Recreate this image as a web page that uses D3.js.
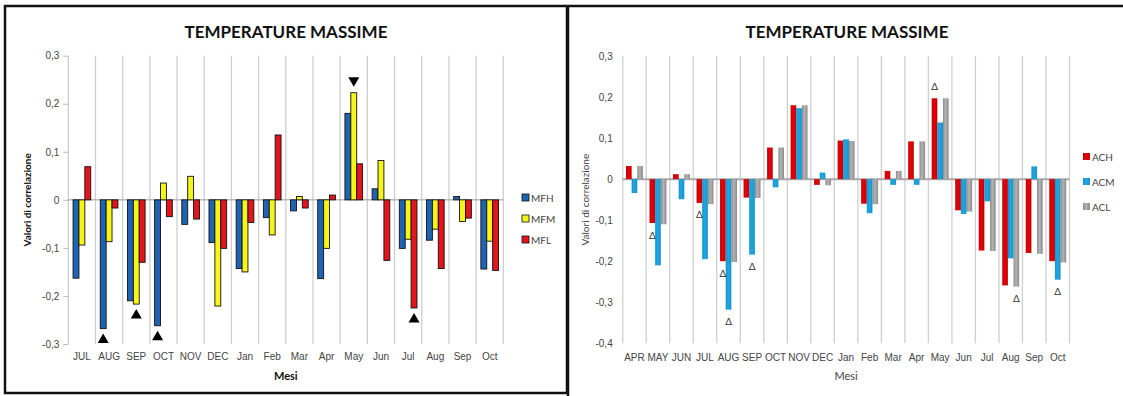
<!DOCTYPE html>
<html><head><meta charset="utf-8">
<script src="https://cdn.jsdelivr.net/npm/d3@7"></script>
<style>
body{margin:0;background:#fff;}
svg{display:block;font-family:Lato,"Open Sans",sans-serif;}
</style></head><body>
<svg id="chart" width="1123" height="396"></svg>
<script>
// ---- Left panel: MF correlations ----
const leftMonths = ["JUL","AUG","SEP","OCT","NOV","DEC","Jan","Feb","Mar","Apr","May","Jun","Jul","Aug","Sep","Oct"];
const leftSeries = ["MFH","MFM","MFL"];
const mfh = [-0.163,-0.268,-0.21,-0.262,-0.051,-0.089,-0.143,-0.037,-0.023,-0.164,0.18,0.023,-0.101,-0.084,0.007,-0.144];
const mfm = [-0.094,-0.087,-0.217,0.035,0.049,-0.221,-0.15,-0.073,0.007,-0.101,0.223,0.082,-0.082,-0.061,-0.045,-0.086];
const mfl = [0.069,-0.017,-0.13,-0.035,-0.04,-0.101,-0.047,0.135,-0.017,0.01,0.075,-0.126,-0.225,-0.143,-0.038,-0.147];
const leftTicks = [0.3,0.2,0.1,0,-0.1,-0.2,-0.3];
// significance markers: [month index, series index]
const leftMarks = [[1,0],[2,1],[3,0],[10,1],[12,2]];

// ---- Right panel: AC correlations ----
const rightMonths = ["APR","MAY","JUN","JUL","AUG","SEP","OCT","NOV","DEC","Jan","Feb","Mar","Apr","May","Jun","Jul","Aug","Sep","Oct"];
const rightSeries = ["ACH","ACM","ACL"];
const ach = [0.032,-0.107,0.012,-0.058,-0.2,-0.045,0.077,0.18,-0.014,0.094,-0.06,0.02,0.092,0.197,-0.076,-0.174,-0.259,-0.18,-0.2];
const acm = [-0.034,-0.21,-0.049,-0.195,-0.318,-0.184,-0.02,0.173,0.016,0.097,-0.083,-0.014,-0.014,0.138,-0.085,-0.054,-0.193,0.031,-0.245];
const acl = [0.032,-0.11,0.012,-0.061,-0.202,-0.046,0.077,0.18,-0.015,0.093,-0.061,0.02,0.092,0.197,-0.079,-0.175,-0.262,-0.182,-0.203];
const rightTicks = [0.3,0.2,0.1,0,-0.1,-0.2,-0.3,-0.4];
const rightMarks = [[1,0],[3,0],[4,0],[4,1],[5,1],[13,0],[16,2],[18,1]];

const svg = d3.select("#chart");
const fmt = d => String(d).replace(".", ",");

// gradients for the shaded bars of the right panel
const defs = svg.append("defs");
function hGrad(id, edge, mid) {
  const g = defs.append("linearGradient").attr("id", id).attr("x1", "0").attr("x2", "1");
  g.append("stop").attr("offset", "0%").attr("stop-color", edge);
  g.append("stop").attr("offset", "45%").attr("stop-color", mid);
  g.append("stop").attr("offset", "100%").attr("stop-color", edge);
}
hGrad("gRed", "#c00000", "#e8000b");
hGrad("gBlue", "#1590c8", "#1fa8e4");
hGrad("gGray", "#8a8a8a", "#b4b4b4");

// panel frames
svg.append("rect").attr("x", 5).attr("y", 6).attr("width", 562).attr("height", 387)
  .attr("fill", "none").attr("stroke", "#111").attr("stroke-width", 2.5);
svg.append("path").attr("d", "M568,6H1125M568,6V398")
  .attr("fill", "none").attr("stroke", "#111").attr("stroke-width", 2.5);

function panel(cfg) {
  const g = svg.append("g");
  const x = d3.scaleBand().domain(cfg.months).range(cfg.xr)
    .paddingInner(cfg.pad).paddingOuter(cfg.pad / 2);
  const xs = d3.scaleBand().domain(cfg.series).range([0, x.bandwidth()]);
  const y = d3.scaleLinear().domain(cfg.yd).range(cfg.yr);
  const step = x.step();

  // vertical separators between months
  g.append("g").selectAll("line").data(d3.range(cfg.months.length + 1)).join("line")
    .attr("x1", i => cfg.xr[0] + i * step).attr("x2", i => cfg.xr[0] + i * step)
    .attr("y1", y(cfg.yd[1])).attr("y2", y(cfg.yd[0]))
    .attr("stroke", "#cfcfcf").attr("stroke-width", 1.3);

  // y axis labels
  const ya = g.append("g").attr("transform", `translate(${cfg.xr[0]},0)`)
    .call(d3.axisLeft(y).tickValues(cfg.ticks).tickFormat(fmt).tickSize(cfg.tick).tickPadding(cfg.tickPad));
  ya.select(".domain").remove();
  ya.selectAll("line").attr("stroke", "#bbb");
  ya.selectAll("text").attr("font-size", 10).attr("fill", "#444");

  // zero line
  g.append("line").attr("x1", cfg.xr[0]).attr("x2", cfg.xr[1])
    .attr("y1", y(0)).attr("y2", y(0)).attr("stroke", cfg.zeroColor).attr("stroke-width", cfg.zeroW);

  // bars
  const rows = cfg.months.map((m, i) => cfg.series.map((s, k) => ({ m, s, k, v: cfg.values[k][i] })));
  g.append("g").selectAll("g").data(rows).join("g")
    .attr("transform", (d, i) => `translate(${x(cfg.months[i])},0)`)
    .selectAll("rect").data(d => d).join("rect")
    .attr("x", d => xs(d.s)).attr("width", xs.bandwidth())
    .attr("y", d => y(Math.max(0, d.v))).attr("height", d => Math.abs(y(d.v) - y(0)))
    .attr("fill", d => cfg.fills[d.k])
    .attr("stroke", cfg.stroke).attr("stroke-width", cfg.stroke === "none" ? 0 : 0.9);

  // x labels
  const xa = g.append("g").attr("transform", `translate(0,${y(cfg.yd[0])})`)
    .call(d3.axisBottom(x).tickSize(0).tickPadding(cfg.xPad));
  xa.select(".domain").remove();
  xa.selectAll("text").attr("font-size", 10).attr("fill", "#444");

  // titles
  const cx = (cfg.xr[0] + cfg.xr[1]) / 2;
  g.append("text").attr("x", cfg.titleX).attr("y", 38).attr("text-anchor", "middle")
    .attr("font-size", 17).attr("font-weight", "bold").attr("fill", "#111")
    .text("TEMPERATURE MASSIME");
  g.append("text").attr("x", cx).attr("y", 380).attr("text-anchor", "middle")
    .attr("font-size", 11).attr("font-weight", cfg.axisBold ? "bold" : "normal").attr("fill", cfg.axisBold ? "#111" : "#444")
    .text("Mesi");
  g.append("text").attr("transform", `translate(${cfg.yLabelX},${(cfg.yr[0] + cfg.yr[1]) / 2}) rotate(-90)`)
    .attr("text-anchor", "middle").attr("font-size", 10)
    .attr("font-weight", cfg.axisBold ? "bold" : "normal").attr("fill", cfg.axisBold ? "#111" : "#444")
    .text("Valori di correlazione");

  // legend
  const lg = g.append("g").selectAll("g").data(cfg.series).join("g")
    .attr("transform", (d, i) => `translate(${cfg.legX},${cfg.legY + i * cfg.legGap})`);
  lg.append("rect").attr("x", 0).attr("y", -4).attr("width", 7).attr("height", 7)
    .attr("fill", (d, i) => cfg.fills[i]).attr("stroke", cfg.stroke).attr("stroke-width", cfg.stroke === "none" ? 0 : 0.8);
  lg.append("text").attr("x", 9).attr("y", 0).attr("dy", "0.35em")
    .attr("font-size", 10).attr("fill", "#444").text(d => d);

  return { x, xs, y };
}

// ---- left chart ----
const L = panel({
  months: leftMonths, series: leftSeries, values: [mfh, mfm, mfl],
  xr: [68.3, 503.3], yd: [-0.3, 0.3], yr: [344, 55.7], ticks: leftTicks,
  pad: 0.35, fills: ["#1f64b4", "#f6f519", "#e3141b"], stroke: "#111",
  tick: 5, tickPad: 4, zeroColor: "#9a9a9a", zeroW: 1, xPad: 9,
  titleX: 286, axisBold: true, yLabelX: 31,
  legX: 522, legY: 198, legGap: 21
});
// filled triangles marking significant correlations
svg.append("g").selectAll("path").data(leftMarks).join("path")
  .attr("transform", ([i, k]) => {
    const v = [mfh, mfm, mfl][k][i];
    const cx = L.x(leftMonths[i]) + L.xs(leftSeries[k]) + L.xs.bandwidth() / 2;
    const cy = v < 0 ? L.y(v) + 10 : L.y(v) - 11;
    return `translate(${cx},${cy})`;
  })
  .attr("d", ([i, k]) => [mfh, mfm, mfl][k][i] < 0 ? "M0,-5L5.5,4.5L-5.5,4.5Z" : "M0,5L5.5,-4.5L-5.5,-4.5Z")
  .attr("fill", "#000");

// ---- right chart ----
const R = panel({
  months: rightMonths, series: rightSeries, values: [ach, acm, acl],
  xr: [622.7, 1069.5], yd: [-0.4, 0.3], yr: [343.3, 56], ticks: rightTicks,
  pad: 0.28, fills: ["url(#gRed)", "url(#gBlue)", "url(#gGray)"], stroke: "none",
  tick: 0, tickPad: 10, zeroColor: "#a8a8a8", zeroW: 2, xPad: 11,
  titleX: 847, axisBold: false, yLabelX: 589,
  legX: 1083, legY: 157, legGap: 25
});
svg.append("g").selectAll("text").data(rightMarks).join("text")
  .attr("x", ([i, k]) => R.x(rightMonths[i]) + R.xs(rightSeries[k]) + R.xs.bandwidth() / 2)
  .attr("y", ([i, k]) => {
    const v = [ach, acm, acl][k][i];
    return v < 0 ? R.y(v) + 12 : R.y(v) - 12;
  })
  .attr("dy", "0.35em").attr("text-anchor", "middle").attr("font-size", 10).attr("fill", "#333")
  .text("Δ");
</script>
</body></html>
